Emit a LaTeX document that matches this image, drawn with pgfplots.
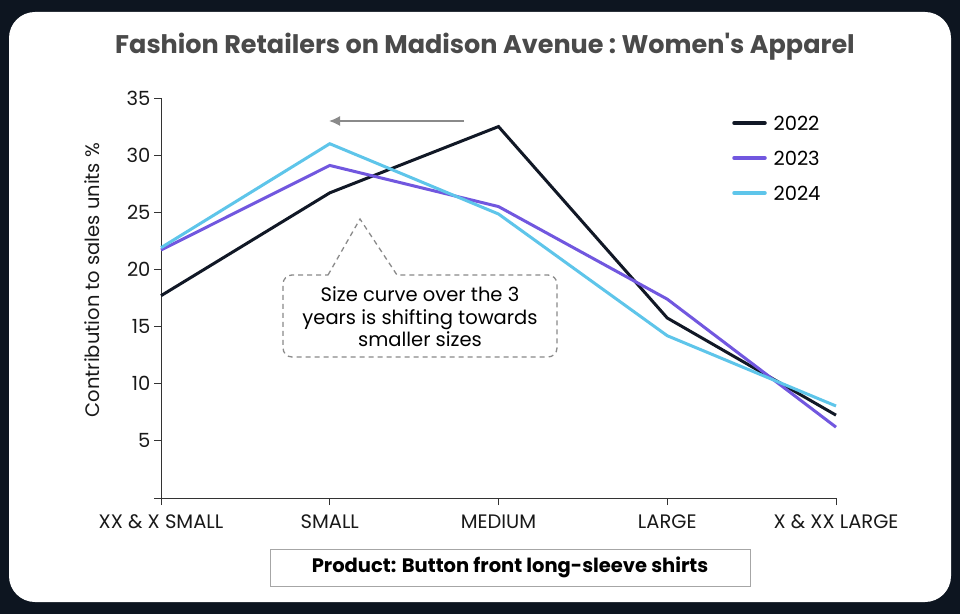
\documentclass[border=0pt]{standalone}
\usepackage{pgfplots}
\pgfplotsset{compat=1.18}
\usetikzlibrary{arrows.meta}
\usepackage{fontspec}
\setmainfont{Poppins}
\setmonofont{Poppins}
\definecolor{bgdark}{HTML}{0D1520}
\definecolor{cA}{HTML}{111826}
\definecolor{cB}{HTML}{7157DF}
\definecolor{cC}{HTML}{5EC5EA}
\definecolor{axisgray}{HTML}{333333}
\definecolor{titlegray}{HTML}{4A4A4A}
\definecolor{annot}{HTML}{8A8A8A}
\newcommand{\fs}{\fontsize{19.5}{23}\selectfont}
\begin{document}
\begin{tikzpicture}[x=1pt,y=1pt]
\fill[bgdark] (0,0) rectangle (960,614);
\fill[white, rounded corners=26pt] (9,12) rectangle (951,602);
\node[font=\fontsize{25.5}{29}\selectfont\ttfamily\bfseries, text=titlegray] at (485,567) {Fashion Retailers on Madison Avenue : Women's Apparel};
\begin{axis}[
  at={(161pt,116pt)}, anchor=south west, scale only axis,
  width=675pt, height=400pt,
  xmin=0, xmax=4, ymin=0, ymax=35, clip=false,
  axis lines=left, axis line style={-, draw=axisgray, line width=1pt},
  tick align=outside, major tick length=7pt,
  tick style={draw=axisgray, line width=1pt},
  xtick={0,1,2,3,4},
  xticklabels={XX \& X SMALL, SMALL, MEDIUM, LARGE, X \& XX LARGE},
  ytick={0,5,10,15,20,25,30,35},
  yticklabels={{},5,10,15,20,25,30,35},
  ticklabel style={font=\fs, text=black!90},
  xticklabel style={yshift=-6pt},
  ylabel={Contribution to sales units \%},
  ylabel style={font=\fs, text=black!90, at={(axis description cs:-0.1022,0.545)}, anchor=center},
]
\addplot[cA, line width=3pt, line join=miter] coordinates {(0,17.7) (1,26.7) (2,32.5) (3,15.75) (4,7.25)};
\addplot[cB, line width=3pt, line join=miter] coordinates {(0,21.7) (1,29.1) (2,25.5) (3,17.4) (4,6.2)};
\addplot[cC, line width=3pt, line join=miter] coordinates {(0,21.9) (1,31.0) (2,24.85) (3,14.2) (4,8.05)};
\end{axis}
% legend
\draw[cA, line width=3.5pt, line cap=round] (734,491) -- (765,491);
\node[anchor=west, font=\fs] at (770,491) {2022};
\draw[cB, line width=3.5pt, line cap=round] (734,456) -- (765,456);
\node[anchor=west, font=\fs] at (770,456) {2023};
\draw[cC, line width=3.5pt, line cap=round] (734,421) -- (765,421);
\node[anchor=west, font=\fs] at (770,421) {2024};
% arrow
\draw[annot, line width=1.6pt, -{Latex[length=11pt,width=10pt]}] (464,493) -- (329,493);
% callout
\draw[annot, line width=1.3pt, dash pattern=on 5pt off 4pt] (328,339) -- (360,395) -- (397,339) [rounded corners=9pt] -- (557,339) -- (557,257) -- (283,257) -- (283,339) -- (328,339);
\node[align=center, font=\fontsize{19.5}{22.5}\selectfont] at (420,297) {Size curve over the 3\\years is shifting towards\\smaller sizes};
% product box
\draw[gray!70, line width=1pt] (270,65) rectangle (750,28);
\node[font=\fs\bfseries] at (510,47) {Product: Button front long-sleeve shirts};
\end{tikzpicture}
\end{document}
